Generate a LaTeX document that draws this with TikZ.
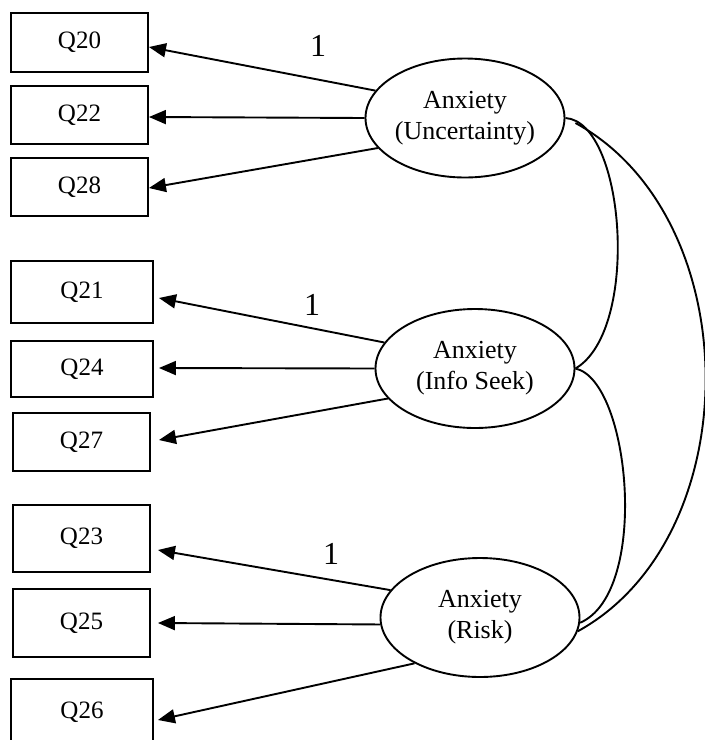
\documentclass[tikz,border=0pt]{standalone}
\usepackage{fontspec}
\setmainfont{Liberation Serif}
\usetikzlibrary{arrows.meta,shapes.geometric}

\begin{document}
\begin{tikzpicture}[x=1pt,y=-1pt,
  item/.style={draw, line width=1.9pt, rectangle, inner sep=0pt,
    font=\fontsize{25}{30}\selectfont},
  latent/.style={draw, line width=1.9pt, ellipse, minimum width=199pt,
    minimum height=119pt, inner sep=0pt},
  latlabel/.style={align=center, inner sep=0pt,
    font=\fontsize{26}{31}\selectfont},
  load/.style={line width=1.9pt, -{Triangle[length=17pt,width=14pt]}},
  cov/.style={line width=1.9pt},
  fixed/.style={inner sep=0pt, font=\fontsize{32}{38}\selectfont}]
\useasboundingbox (0,0) rectangle (705,740);

% observed items
\node[item, minimum width=137pt, minimum height=59pt] (q20) at (79.5,42.5) {Q20};
\node[item, minimum width=137pt, minimum height=58pt] (q22) at (79.5,115) {Q22};
\node[item, minimum width=137pt, minimum height=58pt] (q28) at (79.5,187) {Q28};
\node[item, minimum width=142pt, minimum height=62pt] (q21) at (82,292) {Q21};
\node[item, minimum width=142pt, minimum height=56pt] (q24) at (82,369) {Q24};
\node[item, minimum width=137pt, minimum height=58pt] (q27) at (81.5,442) {Q27};
\node[item, minimum width=137pt, minimum height=67pt] (q23) at (81.5,538.5) {Q23};
\node[item, minimum width=137pt, minimum height=68pt] (q25) at (81.5,623) {Q25};
\node[item, minimum width=142pt, minimum height=66pt] (q26) at (82,712) {Q26};

% latent factors
\node[latent] (unc) at (465,118) {};
\node[latlabel] (unct) at (unc) {Anxiety\\(Uncertainty)};
\node[latent] (info) at (475,368.5) {};
\node[latlabel] (infot) at (info) {Anxiety\\(Info Seek)};
\node[latent] (risk) at (480,617.5) {};
\node[latlabel] (riskt) at (risk) {Anxiety\\(Risk)};

% loadings
\draw[load] (unc.163) -- ([shift={(0,4.5)}]q20.east);
\draw[load] (unc.west) -- ([shift={(0,2)}]q22.east);
\draw[load] (unc.199) -- ([shift={(0,1)}]q28.east);
\draw[load] (info.164) -- ([shift={(5,6)}]q21.east);
\draw[load] (info.west) -- ([shift={(5,-1)}]q24.east);
\draw[load] (info.199) -- ([shift={(8,-2)}]q27.east);
\draw[load] (risk.163) -- ([shift={(7,11.5)}]q23.east);
\draw[load] (risk.184) -- ([shift={(7,0)}]q25.east);
\draw[load] (risk.215) -- ([shift={(4,8)}]q26.east);

% fixed loadings
\node[fixed] (fix1) at (318,46) {1};
\node[fixed] (fix2) at (312,305) {1};
\node[fixed] (fix3) at (331,554) {1};

% factor covariances
\draw[cov] (unc.east) .. controls +(60,4) and +(65,-38) .. (info.east);
\draw[cov] (info.east) .. controls +(55,12) and +(70,-30) .. (risk.-3);
\draw[cov] ([shift={(10,5)}]unc.east) .. controls +(173,95) and +(171,-94) .. (risk.-8);
\end{tikzpicture}
\end{document}
